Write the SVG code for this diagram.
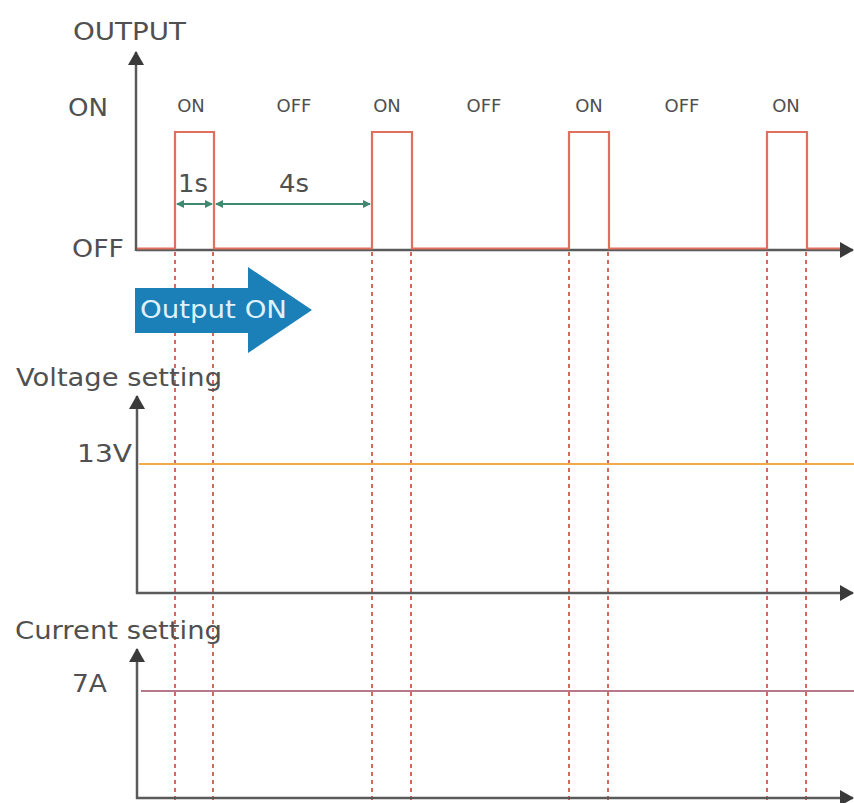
<svg xmlns="http://www.w3.org/2000/svg" width="854" height="803" viewBox="0 0 854 803">
<defs>
<style>
.t{font-family:"DejaVu Sans","Liberation Sans",sans-serif;fill:#505050;}
.big{font-size:25px;}
.small{font-size:18px;}
.axis{stroke:#5a5a5a;stroke-width:2.5;fill:none;}
.dash{stroke:#d4685a;stroke-width:2;stroke-dasharray:4 4;fill:none;}
.wave{stroke:#e0705e;stroke-width:2.2;fill:none;}
.dim{stroke:#3d8a70;stroke-width:2;fill:none;}
</style>
<marker id="axh" viewBox="0 0 14 16" markerWidth="14" markerHeight="16" refX="13" refY="8" orient="auto" markerUnits="userSpaceOnUse">
<path d="M0,0 L14,8 L0,16 Z" fill="#3a3a3a"/>
</marker>
<marker id="dh" viewBox="0 0 8 8" markerWidth="8" markerHeight="8" refX="7" refY="4" orient="auto-start-reverse" markerUnits="userSpaceOnUse">
<path d="M0,0 L8,4 L0,8 Z" fill="#3d8a70"/>
</marker>
</defs>
<rect width="854" height="803" fill="#ffffff"/>

<g id="dashed-guides">
<line class="dash" x1="175" y1="252" x2="175" y2="803"/>
<line class="dash" x1="213" y1="252" x2="213" y2="803"/>
<line class="dash" x1="372" y1="252" x2="372" y2="803"/>
<line class="dash" x1="411" y1="252" x2="411" y2="803"/>
<line class="dash" x1="569" y1="252" x2="569" y2="803"/>
<line class="dash" x1="608" y1="252" x2="608" y2="803"/>
<line class="dash" x1="767" y1="252" x2="767" y2="803"/>
<line class="dash" x1="806" y1="252" x2="806" y2="803"/>
</g>

<g id="output-chart">
<line class="axis" x1="136" y1="251" x2="136" y2="52" marker-end="url(#axh)"/>
<line class="axis" x1="136" y1="250" x2="853" y2="250" marker-end="url(#axh)"/>
<path class="wave" d="M137,248.5 H175 V132 H214 V248.5 H372 V132 H412 V248.5 H569 V132 H609 V248.5 H767 V132 H807 V248.5 H840"/>
<text class="t big" x="73" y="40" textLength="113" lengthAdjust="spacingAndGlyphs">OUTPUT</text>
<text class="t big" x="68" y="116" textLength="40" lengthAdjust="spacingAndGlyphs">ON</text>
<text class="t big" x="72" y="257" textLength="52" lengthAdjust="spacingAndGlyphs">OFF</text>
<text class="t small" x="191" y="112" text-anchor="middle">ON</text>
<text class="t small" x="294" y="112" text-anchor="middle">OFF</text>
<text class="t small" x="387" y="112" text-anchor="middle">ON</text>
<text class="t small" x="484" y="112" text-anchor="middle">OFF</text>
<text class="t small" x="589" y="112" text-anchor="middle">ON</text>
<text class="t small" x="682" y="112" text-anchor="middle">OFF</text>
<text class="t small" x="786" y="112" text-anchor="middle">ON</text>
<text class="t big" x="178" y="192" textLength="30" lengthAdjust="spacingAndGlyphs">1s</text>
<text class="t big" x="279" y="192" textLength="30" lengthAdjust="spacingAndGlyphs">4s</text>
</g>

<g id="dimensions">
<line class="dim" x1="177" y1="204" x2="212" y2="204" marker-start="url(#dh)" marker-end="url(#dh)"/>
<line class="dim" x1="216" y1="204" x2="370" y2="204" marker-start="url(#dh)" marker-end="url(#dh)"/>
</g>

<g id="output-on-arrow">
<path d="M135,288 H248 V267 L312,310 L248,353 V333 H135 Z" fill="#1b80b8"/>
<text class="t" x="140" y="318" font-size="25" style="fill:#dff1fc" textLength="147" lengthAdjust="spacingAndGlyphs">Output ON</text>
</g>

<g id="voltage-chart">
<line class="axis" x1="137" y1="594" x2="137" y2="396" marker-end="url(#axh)"/>
<line class="axis" x1="136" y1="593" x2="853" y2="593" marker-end="url(#axh)"/>
<line x1="139" y1="464" x2="854" y2="464" stroke="#f2aa48" stroke-width="2.2"/>
<text class="t big" x="16" y="386" textLength="206" lengthAdjust="spacingAndGlyphs">Voltage setting</text>
<text class="t big" x="77" y="462" textLength="55" lengthAdjust="spacingAndGlyphs">13V</text>
</g>

<g id="current-chart">
<line class="axis" x1="137" y1="799" x2="137" y2="649" marker-end="url(#axh)"/>
<line class="axis" x1="136" y1="798" x2="853" y2="798" marker-end="url(#axh)"/>
<line x1="141" y1="691" x2="854" y2="691" stroke="#b8788a" stroke-width="2.2"/>
<text class="t big" x="15" y="639" textLength="207" lengthAdjust="spacingAndGlyphs">Current setting</text>
<text class="t big" x="72" y="692" textLength="35" lengthAdjust="spacingAndGlyphs">7A</text>
</g>
</svg>
